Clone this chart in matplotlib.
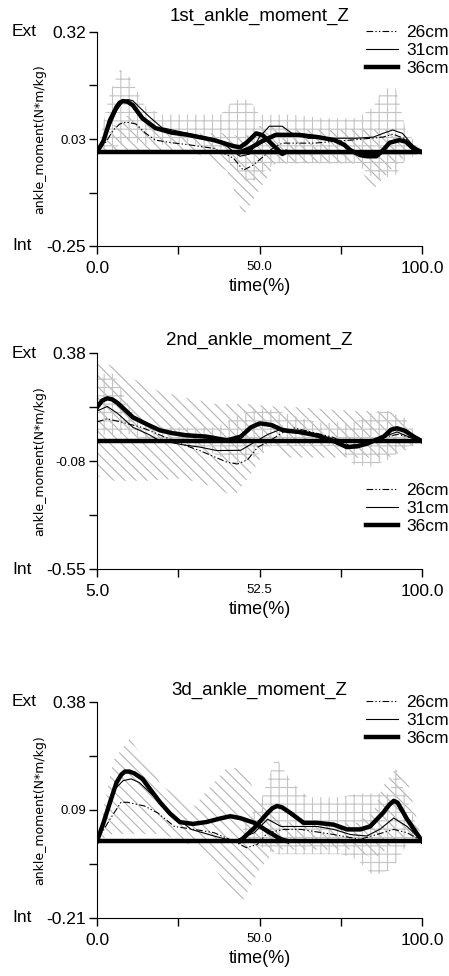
import matplotlib
matplotlib.use("Agg")
import matplotlib.pyplot as plt
import matplotlib.transforms as mtransforms
from matplotlib import font_manager

# pick a narrow font if it is there
names = set(f.name for f in font_manager.fontManager.ttflist)
FONT = "Liberation Sans Narrow" if "Liberation Sans Narrow" in names else "Liberation Sans"
plt.rcParams['font.family'] = [FONT, 'DejaVu Sans']
plt.rcParams['hatch.linewidth'] = 0.8

labels = ["26cm", "31cm", "36cm"]
titles = ["1st_ankle_moment_Z", "2nd_ankle_moment_Z", "3d_ankle_moment_Z"]
ylims = [(-0.25, 0.32), (-0.55, 0.38), (-0.21, 0.38)]
ymid = ["0.03", "-0.08", "0.09"]
xlims = [(0.0, 100.0), (5.0, 100.0), (0.0, 100.0)]
xmid = ["50.0", "52.5", "50.0"]

# ---- panel 1 ----
p1_t26 = [0, 3, 5, 7, 9, 12, 15, 18, 23, 28, 31, 36, 42, 45, 48, 51, 54, 57, 62, 67, 72, 78, 83, 88, 91, 95, 98, 100]
p1_m26 = [0, 0.03, 0.059, 0.075, 0.08, 0.075, 0.05, 0.032, 0.025, 0.02, 0.016, 0.01, -0.016, -0.048, -0.035, -0.013,
          0.01, 0.024, 0.024, 0.024, 0.028, 0.032, 0.036, 0.04, 0.048, 0.035, 0.01, 0]
p1_t31 = [0, 3, 6, 8, 9.5, 11, 13, 16, 20, 28, 36, 40, 44, 47, 50, 53, 57, 60, 65, 72, 80, 85, 88, 91, 94, 97, 100]
p1_m31 = [0, 0.05, 0.11, 0.135, 0.14, 0.137, 0.12, 0.095, 0.065, 0.05, 0.035, 0.015, -0.011, -0.005, 0.04, 0.069,
          0.069, 0.05, 0.037, 0.037, 0.037, 0.04, 0.05, 0.059, 0.05, 0.02, 0]
p1_t36a = [0, 2, 4, 6, 7, 8, 9.5, 11, 14, 18, 23, 28, 36, 42, 44, 46, 49, 51, 54, 57, 58]
p1_m36a = [0, 0.03, 0.085, 0.12, 0.132, 0.136, 0.134, 0.125, 0.09, 0.064, 0.052, 0.046, 0.032, 0.016, 0.013, 0.025,
           0.05, 0.045, 0.02, -0.005, 0]
p1_t36b = [44, 47, 51, 55, 62, 68, 73, 76, 78, 81, 83, 86, 88, 90, 93, 95, 97, 100]
p1_m36b = [0, 0.01, 0.03, 0.046, 0.046, 0.04, 0.032, 0.02, 0.005, -0.008, -0.011, -0.011, 0.005, 0.025, 0.032,
           0.028, 0.012, 0]
p1_dx = [0, 5, 10, 20, 30, 40, 45, 50, 55, 60, 70, 80, 85, 90, 95, 100]
p1_dhi = [0, 0.07, 0.1, 0.05, 0.05, 0.05, 0.04, 0.07, 0.07, 0.06, 0.06, 0.06, 0.06, 0.06, 0.03, 0]
p1_dlo = [0, 0, 0, 0, 0, -0.05, -0.17, -0.1, -0.03, -0.03, -0.03, -0.03, -0.1, -0.05, -0.01, 0]
p1_cx = [0, 4, 7, 10, 15, 20, 30, 38, 42, 47, 50, 55, 60, 70, 80, 85, 88, 92, 95, 100]
p1_chi = [0, 0.16, 0.22, 0.2, 0.12, 0.1, 0.1, 0.1, 0.14, 0.14, 0.1, 0.1, 0.1, 0.09, 0.09, 0.12, 0.17, 0.17, 0.06, 0]
p1_clo = [0, 0, 0.02, 0.03, 0.02, 0.02, 0.02, 0, -0.04, -0.09, -0.06, -0.03, -0.03, -0.03, -0.03, -0.07, -0.07,
          -0.06, -0.02, 0]

# ---- panel 2 ----
p2_t26 = [5, 8, 12, 18, 25, 31, 35, 43, 46, 49, 52, 55, 59, 62.6, 67.6, 74, 79, 84, 89, 93, 98, 100]
p2_m26 = [0.083, 0.097, 0.083, 0.06, 0.017, -0.019, -0.04, -0.09, -0.098, -0.08, -0.025, -0.003, 0.035, 0.057,
          0.04, 0.017, -0.02, -0.005, 0.017, 0.03, 0.01, 0]
p2_t31 = [5, 8, 11, 15.5, 20, 23, 30, 35, 40, 47, 51, 55, 59.4, 64, 69, 74, 78, 84, 89, 92.7, 96, 100]
p2_m31 = [0.13, 0.15, 0.12, 0.06, 0.03, 0.005, -0.015, -0.025, -0.04, -0.039, -0.004, 0.03, 0.055, 0.04, 0.026,
          0.004, -0.02, -0.01, 0.02, 0.04, 0.02, 0]
p2_t36a = [5, 6.5, 8, 9.5, 11, 15.5, 20, 23.4, 27, 31, 37, 43, 47, 50, 52.6, 56, 59.4, 64, 69, 73.7, 78, 81, 84,
           88.8, 91, 92.7, 95, 97.6, 100]
p2_m36a = [0.146, 0.175, 0.185, 0.18, 0.165, 0.103, 0.07, 0.047, 0.035, 0.026, 0.02, 0.004, 0.02, 0.06, 0.077,
           0.07, 0.047, 0.04, 0.026, 0.004, -0.025, -0.022, -0.01, 0.02, 0.05, 0.056, 0.045, 0.02, 0]
p2_t36b = []
p2_m36b = []
p2_dx = [5, 10, 20, 30, 40, 45, 50, 55, 60, 70, 80, 90, 95, 100]
p2_dhi = [0.35, 0.32, 0.23, 0.19, 0.16, 0.16, 0.16, 0.15, 0.15, 0.14, 0.13, 0.13, 0.1, 0]
p2_dlo = [-0.15, -0.17, -0.17, -0.16, -0.2, -0.24, -0.14, -0.02, -0.07, -0.07, -0.07, -0.07, -0.04, 0]
p2_cx = [5, 10, 15, 20, 30, 40, 45, 50, 55, 60, 70, 75, 80, 85, 90, 95, 100]
p2_chi = [0.29, 0.29, 0.13, 0.06, 0.06, 0.06, 0.1, 0.14, 0.14, 0.12, 0.08, 0.08, 0.08, 0.12, 0.13, 0.1, 0]
p2_clo = [0.03, 0.03, 0.03, 0, 0, -0.06, -0.095, -0.08, -0.02, -0.02, -0.02, -0.02, -0.1, -0.11, -0.08, -0.03, 0]

# ---- panel 3 ----
p3_t26 = [0, 4, 7.4, 9.4, 14.6, 18.7, 23.8, 29.9, 36, 42, 46, 49.3, 52.5, 57.6, 62.7, 72.8, 81, 88, 91.3, 95.4, 100]
p3_m26 = [0, 0.06, 0.106, 0.106, 0.096, 0.077, 0.04, 0.032, 0.023, 0, -0.018, -0.009, 0.023, 0.032, 0.032, 0.018,
          0.005, 0.023, 0.032, 0.023, 0]
p3_t31 = [0, 5.3, 8, 10.5, 13, 16.6, 23.8, 29, 36, 42, 48.4, 52.5, 56.6, 62.7, 67.7, 72.8, 78, 83, 87, 91.3, 95.4,
          100]
p3_m31 = [0, 0.14, 0.165, 0.17, 0.16, 0.13, 0.068, 0.032, 0.014, 0, 0.023, 0.06, 0.04, 0.04, 0.04, 0.032, 0.018,
          0.014, 0.032, 0.063, 0.04, 0]
p3_t36a = [0, 2, 4, 6, 7.5, 8.6, 10, 11.5, 14, 16.5, 19.4, 22.5, 25.5, 29.5, 33.6, 38, 41, 44, 48.4, 52.5, 56.6, 58.6]
p3_m36a = [0, 0.05, 0.106, 0.16, 0.182, 0.19, 0.19, 0.185, 0.17, 0.14, 0.106, 0.075, 0.052, 0.047, 0.052, 0.062,
           0.068, 0.063, 0.05, 0.027, 0.005, 0]
p3_t36b = [44, 48.4, 52.5, 54, 55.4, 57, 59.5, 63.6, 67.7, 72.8, 76.9, 81, 84, 88, 90, 91.3, 92.5, 95.4, 100]
p3_m36b = [0, 0.036, 0.077, 0.09, 0.096, 0.092, 0.077, 0.05, 0.05, 0.045, 0.032, 0.032, 0.04, 0.077, 0.1, 0.11,
           0.105, 0.06, 0]
p3_dx = [0, 5, 10, 15, 20, 30, 35, 40, 45, 50, 55, 60, 70, 80, 85, 88, 92, 96, 100]
p3_dhi = [0, 0.22, 0.28, 0.22, 0.15, 0.096, 0.15, 0.2, 0.2, 0.11, 0.06, 0.05, 0.05, 0.05, 0.08, 0.15, 0.2, 0.15, 0]
p3_dlo = [0, 0.02, 0.02, 0.02, 0.02, -0.014, -0.06, -0.12, -0.16, -0.077, -0.023, -0.023, -0.023, -0.023, -0.05,
          -0.03, 0, 0, 0]
p3_cx = [45, 50, 55, 60, 65, 75, 80, 85, 90, 92, 96, 100]
p3_chi = [0.05, 0.1, 0.23, 0.16, 0.12, 0.12, 0.13, 0.13, 0.13, 0.2, 0.1, 0]
p3_clo = [0, -0.014, -0.036, -0.036, -0.036, -0.036, -0.05, -0.096, -0.08, -0.06, 0, 0]

panels = [
    (p1_t26, p1_m26, p1_t31, p1_m31, p1_t36a, p1_m36a, p1_t36b, p1_m36b,
     p1_dx, p1_dlo, p1_dhi, p1_cx, p1_clo, p1_chi),
    (p2_t26, p2_m26, p2_t31, p2_m31, p2_t36a, p2_m36a, p2_t36b, p2_m36b,
     p2_dx, p2_dlo, p2_dhi, p2_cx, p2_clo, p2_chi),
    (p3_t26, p3_m26, p3_t31, p3_m31, p3_t36a, p3_m36a, p3_t36b, p3_m36b,
     p3_dx, p3_dlo, p3_dhi, p3_cx, p3_clo, p3_chi),
]

W, H = 449, 976
fig = plt.figure(figsize=(W / 100, H / 100), dpi=100)

# axes boxes in pixels: top, bottom
boxes = [(32, 246), (353, 569), (702, 918)]
legend_top = [25, 483, 695]
title_gap = [17, 15, 14]
BIG = 12.5

for i in range(3):
    t26, m26, t31, m31, t36a, m36a, t36b, m36b, dx, dlo, dhi, cx, clo, chi = panels[i]
    top, bot = boxes[i]
    ax = fig.add_axes([97 / W, 1 - bot / H, 325 / W, (bot - top) / H])

    ax.fill_between(dx, dlo, dhi, facecolor='none', edgecolor='#b4b4b4', hatch='\\\\\\', linewidth=0)
    ax.fill_between(cx, clo, chi, facecolor='none', edgecolor='#c4c4c4', hatch='++', linewidth=0)

    x0, x1 = xlims[i]
    ax.plot([x0, x1], [0, 0], color='black', lw=3.2, solid_capstyle='butt')
    ax.plot(t26, m26, color='black', lw=0.8, linestyle=(0, (6, 2, 1.2, 2, 1.2, 2)), label=labels[0])
    ax.plot(t31, m31, color='black', lw=0.8, label=labels[1])
    ax.plot(t36a, m36a, color='black', lw=3.2, label=labels[2], solid_joinstyle='round')
    if t36b:
        ax.plot(t36b, m36b, color='black', lw=3.2, solid_joinstyle='round')

    y0, y1 = ylims[i]
    ax.set_xlim(x0, x1)
    ax.set_ylim(y0, y1)
    for s in ['top', 'right']:
        ax.spines[s].set_visible(False)

    yt = [y0 + k * (y1 - y0) / 4 for k in range(5)]
    ax.set_yticks(yt)
    ax.set_yticklabels(["%.2f" % y0, "", ymid[i], "", "%.2f" % y1])
    xt = [x0 + k * (x1 - x0) / 4 for k in range(5)]
    ax.set_xticks(xt)
    ax.set_xticklabels(["%.1f" % x0, "", xmid[i], "", "%.1f" % x1])
    ax.tick_params(direction='out', length=6, width=1, labelsize=BIG)
    ax.tick_params(axis='x', pad=5)
    ax.tick_params(axis='y', pad=2)
    ax.yaxis.get_ticklabels()[2].set_fontsize(9.5)
    ax.xaxis.get_ticklabels()[2].set_fontsize(9.5)

    tr = mtransforms.blended_transform_factory(fig.transFigure, ax.transData)
    ax.text(12 / W, y1, "Ext", transform=tr, fontsize=BIG, va='center', ha='left')
    ax.text(12 / W, y0, "Int", transform=tr, fontsize=BIG, va='center', ha='left')

    ax.set_title(titles[i], fontsize=13.5, pad=title_gap[i] - 9)
    ax.set_xlabel("time(%)", fontsize=13, labelpad=1)
    ax.set_ylabel("ankle_moment(N*m/kg)", fontsize=9, family='DejaVu Sans')
    ax.yaxis.set_label_coords(-0.155, 0.5)

    ax.legend(loc='upper right', bbox_to_anchor=(1.0, 1 - legend_top[i] / H), bbox_transform=fig.transFigure,
              frameon=False, fontsize=BIG, handlelength=1.8, handletextpad=0.5, labelspacing=0.15,
              borderpad=0, borderaxespad=0)

fig.savefig("out.png", dpi=100)
